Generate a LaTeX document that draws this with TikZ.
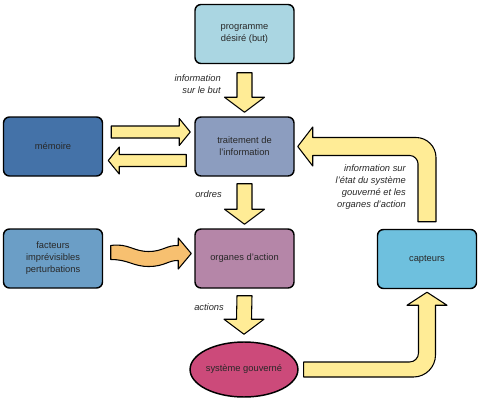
\documentclass[tikz,border=0pt]{standalone}
\usepackage{fontspec}
\setmainfont{Liberation Sans}
\usetikzlibrary{calc,shapes.geometric}
\definecolor{cprog}{RGB}{170,214,226}
\definecolor{cproc}{RGB}{140,157,191}
\definecolor{cmem}{RGB}{68,114,168}
\definecolor{cfac}{RGB}{107,158,198}
\definecolor{corg}{RGB}{181,134,168}
\definecolor{ccap}{RGB}{110,192,222}
\definecolor{csys}{RGB}{204,74,122}
\definecolor{cyel}{RGB}{255,236,150}
\definecolor{corange}{RGB}{247,192,112}
\definecolor{ctxt}{RGB}{40,40,40}
\tikzset{
  box/.style={draw=black, line width=1.1pt, rounded corners=4.5pt, minimum width=74.25pt, minimum height=44.25pt, align=center, font=\fontsize{7}{9}\selectfont, text=ctxt, inner sep=0pt},
  lbl/.style={font=\fontsize{7}{9}\selectfont\itshape, text=ctxt, align=right, inner sep=0pt},
  yarrow/.style={fill=cyel, draw=black, line width=0.8pt, line join=round},
  oarrow/.style={fill=corange, draw=black, line width=0.8pt, line join=round}
}
\newcommand\dnarrow[2]{%
  \draw[yarrow] ($(#1)+(-7.5,0)$) -- ($(#2)+(-7.5,-15)$) -- ($(#2)+(-20,-15)$) -- (#2) -- ($(#2)+(20,-15)$) -- ($(#2)+(7.5,-15)$) -- ($(#1)+(7.5,0)$) -- cycle;}
\newcommand\rtarrow[2]{%
  \draw[yarrow] ($(#1)+(0,-6)$) -- ($(#2)+(-11,-6)$) -- ($(#2)+(-11,-13.5)$) -- (#2) -- ($(#2)+(-11,13.5)$) -- ($(#2)+(-11,6)$) -- ($(#1)+(0,6)$) -- cycle;}
\newcommand\lfarrow[2]{%
  \draw[yarrow] ($(#1)+(0,-6)$) -- ($(#2)+(11,-6)$) -- ($(#2)+(11,-13.5)$) -- (#2) -- ($(#2)+(11,13.5)$) -- ($(#2)+(11,6)$) -- ($(#1)+(0,6)$) -- cycle;}
\begin{document}
\begin{tikzpicture}[x=0.75pt,y=-0.75pt]
\useasboundingbox[fill=white] (0,0) rectangle (483,400);
% nodes
\node[box, fill=cprog] (prog) at (244.5,34) {programme\\désiré (but)};
\node[box, fill=cproc] (proc) at (244.5,146.5) {traitement de\\l'information};
\node[box, fill=cmem] (mem) at (53,146.5) {mémoire};
\node[box, fill=cfac] (fac) at (53,258.5) {facteurs\\imprévisibles\\perturbations};
\node[box, fill=corg] (org) at (244.5,258.5) {organes d'action};
\node[box, fill=ccap] (cap) at (427,259) {capteurs};
\node[ellipse, draw=black, line width=1.1pt, fill=csys, minimum width=77.25pt, minimum height=41.25pt, inner sep=0pt, font=\fontsize{7}{9}\selectfont, text=ctxt] (sys) at (244,369.5) {système gouverné};
% vertical arrows
\coordinate (a1s) at ($(prog.south)+(0,8.5)$);
\coordinate (a1e) at ($(proc.north)+(0,-4)$);
\dnarrow{a1s}{a1e}
\coordinate (a2s) at ($(proc.south)+(0,7)$);
\coordinate (a2e) at ($(org.north)+(0,-4)$);
\dnarrow{a2s}{a2e}
\coordinate (a3s) at ($(org.south)+(0,7)$);
\coordinate (a3e) at ($(sys.north)+(0,-7)$);
\dnarrow{a3s}{a3e}
% memory arrows
\coordinate (m1s) at ($(mem.east)+(8,-14.5)$);
\coordinate (m1e) at ($(proc.west)+(-4,-14.5)$);
\rtarrow{m1s}{m1e}
\coordinate (m2s) at ($(proc.west)+(-8,14)$);
\coordinate (m2e) at ($(mem.east)+(5,14)$);
\lfarrow{m2s}{m2e}
% wavy arrow
\coordinate (w0) at ($(fac.east)+(7.5,-6)$);
\coordinate (w1) at ($(org.west)+(-3,-5)$);
\draw[oarrow] ($(w0)+(0,-7)$) .. controls ($(w0)+(18,-9.5)$) and ($(w0)+(22,-1)$) .. ($(w0)+(38,-1)$) .. controls ($(w0)+(52,-1)$) and ($(w0)+(56,-7.5)$) .. ($(w1)+(-13,-8)$) -- ($(w1)+(-13,-15.5)$) -- (w1) -- ($(w1)+(-13,15.5)$) -- ($(w1)+(-13,7)$) .. controls ($(w0)+(58,7.5)$) and ($(w0)+(54,14)$) .. ($(w0)+(38,14)$) .. controls ($(w0)+(22,14)$) and ($(w0)+(18,7)$) .. ($(w0)+(0,7)$) -- cycle;
% bent arrow system -> sensors
\coordinate (b0) at ($(sys.east)+(5,0)$);
\coordinate (b1) at (cap.south |- sys.east);
\coordinate (b2) at ($(cap.south)+(0,3)$);
\draw[yarrow] ($(b0)+(0,-7.5)$) -- ($(b1)+(-17.5,-7.5)$) .. controls ($(b1)+(-12.5,-7.5)$) and ($(b1)+(-8.5,-11.5)$) .. ($(b1)+(-8.5,-16.5)$) -- ($(b2)+(-8.5,13)$) -- ($(b2)+(-20,13)$) -- (b2) -- ($(b2)+(20,13)$) -- ($(b2)+(8.5,13)$) -- ($(b1)+(8.5,-14.5)$) .. controls ($(b1)+(8.5,-2.4)$) and ($(b1)+(-1.4,7.5)$) .. ($(b1)+(-13.5,7.5)$) -- ($(b0)+(0,7.5)$) -- cycle;
% bent arrow sensors -> processing
\coordinate (c0) at ($(cap.north)+(0,-7)$);
\coordinate (c1) at (cap.north |- proc.east);
\coordinate (c2) at ($(proc.east)+(3,0)$);
\draw[yarrow] ($(c0)+(9,0)$) -- ($(c1)+(9,11)$) .. controls ($(c1)+(9,0)$) and ($(c1)+(0,-9)$) .. ($(c1)+(-11,-9)$) -- ($(c2)+(15,-9)$) -- ($(c2)+(15,-19.5)$) -- (c2) -- ($(c2)+(15,19.5)$) -- ($(c2)+(15,9)$) -- ($(c1)+(-17,9)$) .. controls ($(c1)+(-12.6,9)$) and ($(c1)+(-9,13.4)$) .. ($(c1)+(-9,17)$) -- ($(c0)+(-9,0)$) -- cycle;
% labels
\node[lbl, anchor=east] (l1) at (221,84) {information\\sur le but};
\node[lbl, anchor=west] (l2) at (195,194) {ordres};
\node[lbl, anchor=west] (l3) at (194,307) {actions};
\node[lbl, anchor=east] (l4) at (406,187) {information sur\\l'état du système\\gouverné et les\\organes d'action};
\end{tikzpicture}
\end{document}
